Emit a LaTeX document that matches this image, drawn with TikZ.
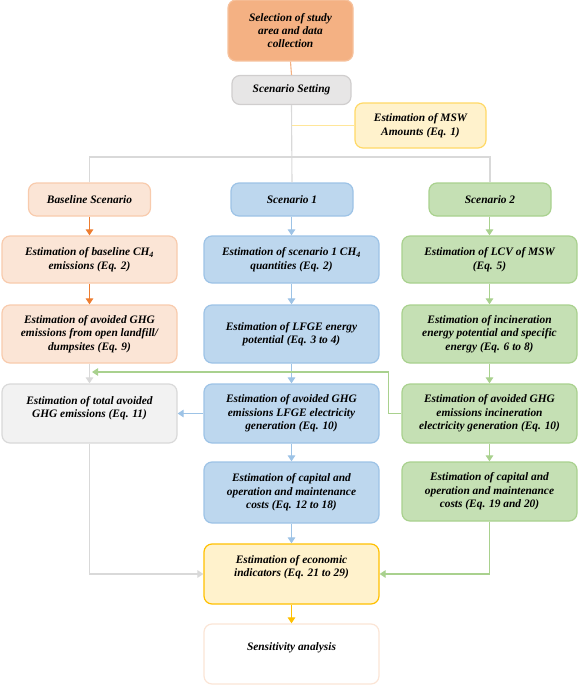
\documentclass[tikz,border=0pt]{standalone}
\usepackage{fontspec}
\setmainfont{Liberation Serif}
\usetikzlibrary{arrows.meta}
\definecolor{orD}{HTML}{ED7D31}
\definecolor{orM}{HTML}{F4B183}
\definecolor{orL}{HTML}{FBE5D6}
\definecolor{orB}{HTML}{F8CBAD}
\definecolor{blF}{HTML}{BDD7EE}
\definecolor{blB}{HTML}{9DC3E6}
\definecolor{grF}{HTML}{C5E0B4}
\definecolor{grB}{HTML}{A9D18E}
\definecolor{gyF}{HTML}{F2F2F2}
\definecolor{gyB}{HTML}{D9D9D9}
\definecolor{ssF}{HTML}{E7E6E6}
\definecolor{ssB}{HTML}{D0CECE}
\definecolor{ylF}{HTML}{FFF2CC}
\definecolor{ylB}{HTML}{FFD966}
\definecolor{ylL}{HTML}{FFE699}
\definecolor{ylD}{HTML}{FFC000}
\begin{document}
\begin{tikzpicture}[x=1pt,y=-1pt,
  box/.style={draw, rounded corners=8pt, line width=1.2pt, align=center,
    inner sep=0pt, font=\bfseries\itshape\fontsize{11.4}{13.4}\selectfont},
  txt/.style={align=center, inner sep=0pt, font=\bfseries\itshape\fontsize{11.4}{13.4}\selectfont},
  colbox/.style={box, minimum width=175pt},
  sbox/.style={box, minimum width=122pt, minimum height=33pt},
  conn/.style={line width=1.1pt},
  arr/.style={line width=1.1pt, -{Triangle[width=7.5pt,length=6pt]}}
]
\useasboundingbox (0,0) rectangle (578,685);

% top part
\node[box, fill=orM, draw=orM!80!white, minimum width=125pt, minimum height=61pt] (top) at (290.5,30.5) {Selection of study\\ area and data\\ collection};
\node[box, fill=ssF, draw=ssB, minimum width=119pt, minimum height=29pt] (ss) at (291.5,90) {Scenario Setting};
\node[box, fill=ylF, draw=ylB, minimum width=131pt, minimum height=45pt] (msw) at (420.5,125.5) {Estimation of MSW\\ Amounts (Eq. 1)};

\node[sbox, fill=orL, draw=orB] (base) at (89.5,199.5) {Baseline Scenario};
\node[sbox, fill=blF, draw=blB] (s1) at (292,199.5) {Scenario 1};
\node[sbox, fill=grF, draw=grB] (s2) at (490,199.5) {Scenario 2};

% row 2
\node[colbox, fill=orL, draw=orB, minimum height=47pt] (b1) at (89.5,259.5) {Estimation of baseline CH\textsubscript{4}\\ emissions (Eq. 2)};
\node[colbox, fill=blF, draw=blB, minimum height=47pt] (a1) at (291.5,259.5) {Estimation of scenario 1 CH\textsubscript{4}\\ quantities (Eq. 2)};
\node[colbox, fill=grF, draw=grB, minimum height=47pt] (c1) at (489.5,259.5) {Estimation of LCV of MSW\\ (Eq. 5)};

% row 3
\node[colbox, fill=orL, draw=orB, minimum height=58pt] (b2) at (89.5,334) {Estimation of avoided GHG\\ emissions from open landfill/\\ dumpsites (Eq. 9)};
\node[colbox, fill=blF, draw=blB, minimum height=58pt] (a2) at (291.5,334) {Estimation of LFGE energy\\ potential (Eq. 3 to 4)};
\node[colbox, fill=grF, draw=grB, minimum height=58pt] (c2) at (489.5,334) {Estimation of incineration\\ energy potential and specific\\ energy (Eq. 6 to 8)};

% row 4
\node[colbox, fill=gyF, draw=gyB, minimum height=59pt] (total) at (89.5,413.5) {};
\node[txt] (totalt) at (89.5,408) {Estimation of total avoided\\ GHG emissions (Eq. 11)};
\node[colbox, fill=blF, draw=blB, minimum height=59pt] (a3) at (291.5,413.5) {Estimation of avoided GHG\\ emissions LFGE electricity\\ generation (Eq. 10)};
\node[colbox, fill=grF, draw=grB, minimum height=59pt] (c3) at (489.5,413.5) {Estimation of avoided GHG\\ emissions incineration\\ electricity generation (Eq. 10)};

% row 5
\node[colbox, fill=blF, draw=blB, minimum height=61pt] (a4) at (291.5,492.5) {Estimation of capital and\\ operation and maintenance\\ costs (Eq. 12 to 18)};
\node[colbox, fill=grF, draw=grB, minimum height=59pt] (c4) at (489.5,491.5) {Estimation of capital and\\ operation and maintenance\\ costs (Eq. 19 and 20)};

% bottom
\node[colbox, fill=ylF, draw=ylD, minimum height=60pt] (econ) at (291.5,574) {};
\node[txt] (econt) at (291.5,567) {Estimation of economic\\ indicators (Eq. 21 to 29)};
\node[colbox, fill=white, draw=orL, minimum height=60pt] (sens) at (291.5,654) {};
\node[txt] (senst) at (291.5,648) {Sensitivity analysis};

% connectors top
\draw[conn, orM] (top.south) -- (ss.north);
\draw[conn, gyB] (ss.south) -- (s1.north);
\draw[conn, ylL] (msw.west) -- (msw.west -| ss.south);
\coordinate (brY) at (0,157);
\draw[conn, gyB] (base.north) |- (brY -| s2.north) -- (s2.north);

% baseline column
\draw[arr, orD] (base.south) -- (b1.north);
\draw[arr, orD] (b1.south) -- (b2.north);
\draw[arr, gyB] (b2.south) -- (total.north);

% scenario 1 column
\draw[arr, blB] (s1.south -| a1.north) -- (a1.north);
\draw[arr, blB] (a1.south) -- (a2.north);
\draw[arr, blB] (a2.south) -- (a3.north);
\draw[arr, blB] (a3.south) -- (a4.north);
\draw[arr, blB] (a4.south) -- (econ.north);
\draw[arr, blB] (a3.west) -- (total.east);

% scenario 2 column
\draw[arr, grB] (s2.south -| c1.north) -- (c1.north);
\draw[arr, grB] (c1.south) -- (c2.north);
\draw[arr, grB] (c2.south) -- (c3.north);
\draw[arr, grB] (c3.south) -- (c4.north);
\coordinate (gend) at (92,372);
\draw[arr, grB] (c3.west) -- ++(-13,0) |- (gend);

% to economic indicators
\draw[arr, gyB] (total.south) |- (econ.west);
\draw[arr, grB] (c4.south) |- (econ.east);
\draw[arr, ylD] (econ.south) -- (sens.north);
\end{tikzpicture}
\end{document}
